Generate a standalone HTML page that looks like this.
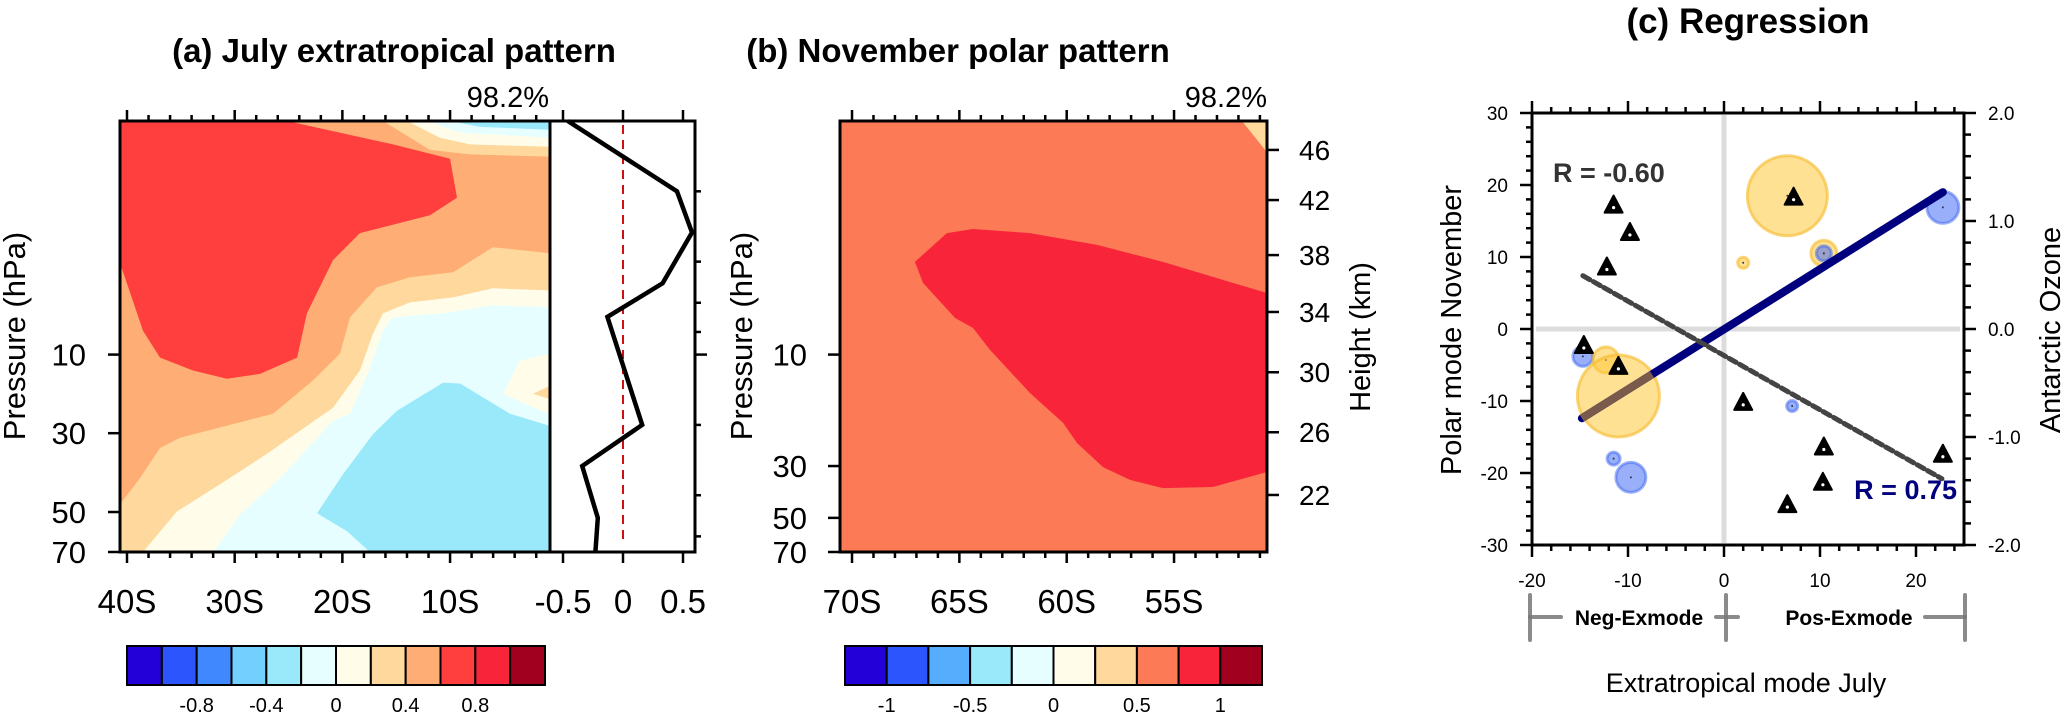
<!DOCTYPE html>
<html><head><meta charset="utf-8">
<style>
html,body{margin:0;padding:0;background:#fff;}
svg{display:block;font-family:"Liberation Sans",Arial,sans-serif;}
</style></head>
<body>
<svg id="fig" width="2067" height="716" viewBox="0 0 2067 716" xmlns="http://www.w3.org/2000/svg">
<text x="394" y="62" font-size="33" font-weight="bold" text-anchor="middle">(a) July extratropical pattern</text>
<text x="958" y="62" font-size="33" font-weight="bold" text-anchor="middle">(b) November polar pattern</text>
<text x="1748" y="33" font-size="35" font-weight="bold" text-anchor="middle">(c) Regression</text>
<text x="549" y="107" font-size="29" text-anchor="end">98.2%</text>
<text x="1267" y="107" font-size="29" text-anchor="end">98.2%</text>
<text transform="translate(25,336) rotate(-90)" font-size="31" text-anchor="middle">Pressure (hPa)</text>
<text transform="translate(752,336) rotate(-90)" font-size="31" text-anchor="middle">Pressure (hPa)</text>
<text transform="translate(1370,337) rotate(-90)" font-size="29" text-anchor="middle">Height (km)</text>
<text transform="translate(1461,330) rotate(-90)" font-size="29" text-anchor="middle">Polar mode November</text>
<text transform="translate(2060,330) rotate(-90)" font-size="29" text-anchor="middle">Antarctic Ozone</text>
<text x="1746" y="692" font-size="27" text-anchor="middle">Extratropical mode July</text>
</svg>
<script>
// ---------- Panel (a) data ----------
const aLatTicks = [40, 30, 20, 10];
const aLatLabels = ['40S', '30S', '20S', '10S'];
const aPTicks = [10, 21.7, 47.2, 70];
const pTicks = [10, 30, 50, 70];
const pLabels = ['10', '30', '50', '70'];
const sidePTicks = [2, 4, 6, 8, 10, 20, 40, 60];
const profileVal = [-0.46, 0.45, 0.575, 0.33, -0.13, 0.16, -0.34, -0.21, -0.23];
const profileP = [1.0, 2.0, 3.0, 4.95, 6.9, 20, 30, 50, 70];
const sideTicks = [-0.5, 0, 0.5];
const sideLabels = ['-0.5', '0', '0.5'];
const aContourRed = [[40.65,1],[25.14,1],[15.3,1.26],[10.01,1.45],[9.36,2.13],[11.87,2.53],[18.37,3.02],[20.87,3.94],[23.29,6.66],[24.2,10.3],[27.65,12.1],[30.72,12.7],[33.87,11.7],[36.94,10.3],[38.51,7.9],[40.65,4.06]];
const aContourTopLO = [[16.23,1],[0.72,1],[0.72,1.42],[8.15,1.39],[11.87,1.33]];
const aContourTopCream = [[14.0,1],[0.72,1],[0.72,1.29],[8.15,1.26],[10.94,1.18]];
const aContourTopLC = [[12.15,1],[0.72,1],[0.72,1.18],[9.08,1.12]];
const aContourTopCyan = [[10.01,1],[0.72,1],[0.72,1.09],[7.22,1.06]];
const aContourLO = [[0.72,3.68],[6.02,3.47],[9.73,4.44],[13.72,4.67],[16.79,5.15],[19.29,6.93],[20.22,9.9],[22.73,12.9],[26.44,17.9],[35.08,22.7],[36.94,25.1],[38.79,33.8],[40.65,43.7],[40.65,70],[0.72,70]];
const aContourCream = [[0.72,5.31],[6.02,5.2],[9.73,5.69],[13.72,5.98],[16.23,6.66],[17.16,8.12],[18.37,11.7],[20.87,16.9],[27.0,26.6],[31.36,35.9],[35.36,46.9],[38.51,70],[0.72,70]];
const aContourLC = [[0.72,6.28],[6.02,6.16],[10.66,6.66],[15.3,6.93],[16.23,7.88],[17.44,11.4],[19.29,17.9],[20.87,19.2],[25.8,33.8],[29.51,48.3],[32.01,70],[0.72,70]];
const aContourBump = [[0.72,9.9],[3.51,10.6],[5.09,14.7],[2.58,16.6],[0.72,17.9]];
const aContourBumpLO = [[0.72,13.6],[2.3,14.7],[0.72,15.5]];
const aContourCyan = [[17.44,70],[19.57,57],[22.36,47.8],[19.94,32.5],[17.16,21.9],[14.93,17.4],[10.66,13.2],[9.08,13.3],[4.44,17.9],[0.72,20.2],[0.72,70]];
const aColors = ['#2300d8','#2d55fe','#3f88fe','#72cffe','#99e9fb','#e6feff','#fffde9','#fed89c','#fead74','#fe3f3d','#f8253a','#a2001f'];
const aCbLabels = ['-0.8','-0.4','0','0.4','0.8'];

// ---------- Panel (b) data ----------
const bLatTicks = [70, 65, 60, 55];
const bLatLabels = ['70S', '65S', '60S', '55S'];
const heightTicks = [46, 42, 38, 34, 30, 26, 22];
const heightPressure = [1.33, 2.18, 3.75, 6.57, 11.9, 21.5, 39.9];
const bContourRed = [[67.07,4.01],[65.58,3.02],[64.37,2.9],[61.71,3.02],[58.59,3.39],[55.52,4.01],[52.4,4.89],[50.67,5.45],[50.67,31.8],[53.19,36.9],[55.52,37.3],[57.05,34.4],[58.31,30.3],[59.52,23.9],[60.17,19.6],[61.71,14.6],[63.57,9.56],[64.37,7.69],[65.2,6.97],[66.69,4.94]];
const bContourCorner = [[51.84,1],[50.67,1],[50.67,1.36]];
const bColors = ['#2300d8','#2d55fe','#56adfe','#99e9fb','#e6feff','#fffde9','#fed89c','#fc7a55','#f8253a','#a2001f'];
const bCbLabels = ['-1','-0.5','0','0.5','1'];

// ---------- Panel (c) data ----------
const cXTicks = [-20, -10, 0, 10, 20];
const cYTicks = [30, 20, 10, 0, -10, -20, -30];
const ozoneTicks = [2.0, 1.0, 0.0, -1.0, -2.0];
const triX = [-11.5, -9.8, -12.2, 7.25, -14.6, -11.0, 2.0, 10.4, 22.8, 10.3, 6.6];
const triY = [17.0, 13.2, 8.4, 18.1, -2.5, -5.4, -10.4, -16.6, -17.6, -21.5, -24.6];
const circX = [6.6, 22.8, 10.4, 10.4, 2.0, -14.7, -12.3, -11.0, 7.1, -11.5, -9.7];
const circY = [18.5, 16.9, 10.5, 10.5, 9.2, -3.8, -4.3, -9.3, -10.7, -18.0, -20.6];
const circSize = [40, 16, 13, 7.5, 5.5, 10, 13, 41, 5.5, 6.5, 15];
const circSign = ['pos','neg','pos','neg','pos','neg','pos','pos','neg','neg','neg'];
const fitPolarX = [-14.8, 22.8];
const fitPolarY = [-12.4, 19.0];
const fitBrownX = [-14.8, -7.5];
const fitBrownY = [-12.4, -6.3];
const fitOzoneX = [-14.7, 22.7];
const fitOzoneY = [7.4, -20.8];

const NS = 'http://www.w3.org/2000/svg';
const svg = document.getElementById('fig');
function mk(tag, attrs, parent) {
  const e = document.createElementNS(NS, tag);
  for (const k in attrs) e.setAttribute(k, attrs[k]);
  (parent || svg).appendChild(e);
  return e;
}
function txt(s, attrs) { const t = mk('text', attrs); t.textContent = s; return t; }

const pTop = 121, pBot = 552, lnMax = Math.log(70);
function yP(p) { return pTop + (pBot - pTop) * Math.log(p) / lnMax; }
const aL = 120, aR = 550, aLatL = 40.65, aLatR = 0.72;
function xA(lat) { return aL + (aLatL - lat) / (aLatL - aLatR) * (aR - aL); }
const bL = 840, bR = 1267, bLatL = 70.56, bLatR = 50.67;
function xB(lat) { return bL + (bLatL - lat) / (bLatL - bLatR) * (bR - bL); }
const sL = 550, sR = 695;
function xS(v) { return 623 + v * 120; }
const cL = 1532, cR = 1964, cT = 113, cB = 545;
function xC(v) { return cL + (v + 20) / 45 * (cR - cL); }
function yC(v) { return cB - (v + 30) / 60 * (cB - cT); }
function yOz(v) { return cB - (v + 2) / 4 * (cB - cT); }

function polyIn(g, pts, xf, color, name) {
  const d = pts.map(q => xf(q[0]).toFixed(1) + ',' + yP(q[1]).toFixed(1)).join(' ');
  const e = mk('polygon', { points: d, fill: color }, g);
  
  
}

// ---------- Panel a ----------
const ca = mk('clipPath', { id: 'clipA' }); mk('rect', { x: aL, y: pTop, width: aR - aL, height: pBot - pTop }, ca);
const ga = mk('g', { 'clip-path': 'url(#clipA)' });
let bg = mk('rect', { x: aL, y: pTop, width: aR - aL, height: pBot - pTop, fill: '#fead74' }, ga);


polyIn(ga, aContourRed, xA, '#fe3f3d', 'contour-a-red');
polyIn(ga, aContourTopLO, xA, '#fed89c', 'contour-a-top-lightorange');
polyIn(ga, aContourTopCream, xA, '#fffde9', 'contour-a-top-cream');
polyIn(ga, aContourTopLC, xA, '#e6feff', 'contour-a-top-lightcyan');
polyIn(ga, aContourTopCyan, xA, '#99e9fb', 'contour-a-top-cyan');
polyIn(ga, aContourLO, xA, '#fed89c', 'contour-a-lightorange');
polyIn(ga, aContourCream, xA, '#fffde9', 'contour-a-cream');
polyIn(ga, aContourLC, xA, '#e6feff', 'contour-a-lightcyan');
polyIn(ga, aContourBump, xA, '#fffde9', 'contour-a-cream-bump');
polyIn(ga, aContourBumpLO, xA, '#fed89c', 'contour-a-lightorange-bump');
polyIn(ga, aContourCyan, xA, '#99e9fb', 'contour-a-cyan');
let fr = mk('rect', { x: aL, y: pTop, width: aR - aL, height: pBot - pTop, fill: 'none', stroke: '#000', 'stroke-width': 3 });



for (let lat = 40; lat >= 2; lat -= 2) {
  const major = lat % 10 === 0, x = xA(lat), L = major ? 11 : 6;
  mk('line', { x1: x, y1: pBot, x2: x, y2: pBot + L, stroke: '#000', 'stroke-width': 2.5 });
  mk('line', { x1: x, y1: pTop, x2: x, y2: pTop - L, stroke: '#000', 'stroke-width': 2.5 });
}
aLatTicks.forEach((lat, i) => {
  const t = txt(aLatLabels[i], { x: xA(lat), y: 613, 'font-size': 33, 'text-anchor': 'middle' });
  
  
});
aPTicks.forEach((p, i) => {
  mk('line', { x1: aL - 12, y1: yP(p), x2: aL, y2: yP(p), stroke: '#000', 'stroke-width': 2.5 });
  const t = txt(pLabels[i], { x: 86, y: yP(p) + 11, 'font-size': 31, 'text-anchor': 'end' });
  
  
});

const sfr = mk('rect', { x: sL, y: pTop, width: sR - sL, height: pBot - pTop, fill: '#fff', stroke: '#000', 'stroke-width': 3 });


const zl = mk('line', { x1: xS(0), y1: pTop + 4, x2: xS(0), y2: pBot - 12, stroke: '#d01010', 'stroke-width': 2, 'stroke-dasharray': '9,6' });


const prof = mk('polyline', { points: profileVal.map((v, i) => xS(v).toFixed(1) + ',' + yP(profileP[i]).toFixed(1)).join(' '), fill: 'none', stroke: '#000', 'stroke-width': 4.5 });


sideTicks.forEach((v, i) => {
  mk('line', { x1: xS(v), y1: pBot, x2: xS(v), y2: pBot + 11, stroke: '#000', 'stroke-width': 2.5 });
  mk('line', { x1: xS(v), y1: pTop, x2: xS(v), y2: pTop - 11, stroke: '#000', 'stroke-width': 2.5 });
  const t = txt(sideLabels[i], { x: xS(v), y: 613, 'font-size': 33, 'text-anchor': 'middle' });
  
  
});
sidePTicks.forEach(p => {
  const L = p === 10 ? 12 : 6;
  mk('line', { x1: sR, y1: yP(p), x2: sR + L, y2: yP(p), stroke: '#000', 'stroke-width': 2.5 });
});

const cbaL = 127, cbaR = 545, cbT = 646, cbH = 39;
aColors.forEach((c, i) => {
  const w = (cbaR - cbaL) / aColors.length;
  const r = mk('rect', { x: cbaL + i * w, y: cbT, width: w, height: cbH, fill: c, stroke: '#000', 'stroke-width': 2 });
  
  
});
aCbLabels.forEach((s, i) => {
  const w = (cbaR - cbaL) / aColors.length;
  const t = txt(s, { x: cbaL + (2 + 2 * i) * w, y: 712, 'font-size': 20, 'text-anchor': 'middle' });
  
  
});

// ---------- Panel b ----------
const cbp = mk('clipPath', { id: 'clipB' }); mk('rect', { x: bL, y: pTop, width: bR - bL, height: pBot - pTop }, cbp);
const gb = mk('g', { 'clip-path': 'url(#clipB)' });
bg = mk('rect', { x: bL, y: pTop, width: bR - bL, height: pBot - pTop, fill: '#fc7a55' }, gb);


polyIn(gb, bContourRed, xB, '#f8253a', 'contour-b-red');
polyIn(gb, bContourCorner, xB, '#fed89c', 'contour-b-corner');
fr = mk('rect', { x: bL, y: pTop, width: bR - bL, height: pBot - pTop, fill: 'none', stroke: '#000', 'stroke-width': 3 });


for (let lat = 70; lat >= 51; lat -= 1) {
  const major = lat % 5 === 0, x = xB(lat), L = major ? 11 : 6;
  mk('line', { x1: x, y1: pBot, x2: x, y2: pBot + L, stroke: '#000', 'stroke-width': 2.5 });
  mk('line', { x1: x, y1: pTop, x2: x, y2: pTop - L, stroke: '#000', 'stroke-width': 2.5 });
}
bLatTicks.forEach((lat, i) => {
  const t = txt(bLatLabels[i], { x: xB(lat), y: 613, 'font-size': 33, 'text-anchor': 'middle' });
  
  
});
pTicks.forEach((p, i) => {
  mk('line', { x1: bL - 12, y1: yP(p), x2: bL, y2: yP(p), stroke: '#000', 'stroke-width': 2.5 });
  const t = txt(pLabels[i], { x: 807, y: yP(p) + 11, 'font-size': 31, 'text-anchor': 'end' });
  
  
});
heightTicks.forEach((h, i) => {
  const y = yP(heightPressure[i]);
  mk('line', { x1: bR, y1: y, x2: bR + 12, y2: y, stroke: '#000', 'stroke-width': 2.5 });
  const t = txt(String(h), { x: 1299, y: y + 10, 'font-size': 28 });
  
  
});
const cbbL = 845, cbbR = 1262;
bColors.forEach((c, i) => {
  const w = (cbbR - cbbL) / bColors.length;
  const r = mk('rect', { x: cbbL + i * w, y: cbT, width: w, height: cbH, fill: c, stroke: '#000', 'stroke-width': 2 });
  
  
});
bCbLabels.forEach((s, i) => {
  const w = (cbbR - cbbL) / bColors.length;
  const t = txt(s, { x: cbbL + (1 + 2 * i) * w, y: 712, 'font-size': 20, 'text-anchor': 'middle' });
  
  
});

// ---------- Panel c ----------
let g0 = mk('line', { x1: xC(0), y1: cT + 2, x2: xC(0), y2: cB - 2, stroke: '#dcdcdc', 'stroke-width': 5 });


g0 = mk('line', { x1: cL + 4, y1: yC(0), x2: cR - 4, y2: yC(0), stroke: '#dcdcdc', 'stroke-width': 5 });



circX.forEach((v, i) => {
  const pos = circSign[i] === 'pos';
  const c = mk('circle', { cx: xC(v), cy: yC(circY[i]), r: circSize[i],
    fill: pos ? 'rgba(255,200,60,0.55)' : 'rgba(70,110,245,0.55)',
    stroke: pos ? 'rgba(245,185,40,0.6)' : 'rgba(60,100,240,0.5)', 'stroke-width': 3 });
  
  
  mk('circle', { cx: xC(v), cy: yC(circY[i]), r: 1, fill: '#334' });
});

let ln = mk('line', { x1: xC(fitPolarX[0]), y1: yC(fitPolarY[0]), x2: xC(fitPolarX[1]), y2: yC(fitPolarY[1]), stroke: '#00007f', 'stroke-width': 8, 'stroke-linecap': 'round' });


ln = mk('line', { x1: xC(fitBrownX[0]), y1: yC(fitBrownY[0]), x2: xC(fitBrownX[1]), y2: yC(fitBrownY[1]), stroke: '#7a5a4a', 'stroke-width': 8 });


ln = mk('line', { x1: xC(fitOzoneX[0]), y1: yC(fitOzoneY[0]), x2: xC(fitOzoneX[1]), y2: yC(fitOzoneY[1]), stroke: '#444', 'stroke-width': 5, 'stroke-dasharray': '8,4', 'stroke-linecap': 'round' });



triX.forEach((v, i) => {
  const x = xC(v), y = yC(triY[i]);
  const t = mk('polygon', { points: `${x},${y - 11} ${x - 9},${y + 6} ${x + 9},${y + 6}`, fill: '#000', stroke: '#000', 'stroke-width': 2, 'stroke-linejoin': 'round' });
  
  
  mk('circle', { cx: x, cy: y + 1, r: 1.6, fill: '#fff' });
});

fr = mk('path', { d: `M${cL},${cT} H${cR} V${cB} H${cL} Z`, fill: 'none', stroke: '#000', 'stroke-width': 3 });


for (let v = -20; v <= 24; v += 2) {
  const x = xC(v), L = v % 10 === 0 ? 12 : 6;
  mk('line', { x1: x, y1: cB, x2: x, y2: cB + L, stroke: '#000', 'stroke-width': 2.5 });
  mk('line', { x1: x, y1: cT, x2: x, y2: cT - L, stroke: '#000', 'stroke-width': 2.5 });
}
for (let v = -30; v <= 30; v += 2) {
  const y = yC(v), L = v % 10 === 0 ? 12 : 6;
  mk('line', { x1: cL - L, y1: y, x2: cL, y2: y, stroke: '#000', 'stroke-width': 2.5 });
}
for (let k = -10; k <= 10; k++) {
  const v = k / 5, y = yOz(v), L = k % 5 === 0 ? 12 : 7;
  mk('line', { x1: cR, y1: y, x2: cR + L, y2: y, stroke: '#000', 'stroke-width': 2.5 });
}
cXTicks.forEach(v => {
  const t = txt(String(v), { x: xC(v), y: 587, 'font-size': 19, 'text-anchor': 'middle' });
  
  
});
cYTicks.forEach(v => {
  const t = txt(String(v), { x: 1508, y: yC(v) + 7, 'font-size': 19, 'text-anchor': 'end' });
  
  
});
ozoneTicks.forEach(v => {
  const t = txt(v.toFixed(1), { x: 1988, y: yOz(v) + 7, 'font-size': 19 });
  
  
});
let rt = txt('R = -0.60', { x: 1553, y: 182, 'font-size': 27, 'font-weight': 'bold', fill: '#333' });


rt = txt('R = 0.75', { x: 1957, y: 499, 'font-size': 27, 'font-weight': 'bold', fill: '#00007f', 'text-anchor': 'end' });



const br = mk('g', { stroke: '#777', 'stroke-width': 4, 'stroke-opacity': 0.85, 'stroke-linecap': 'round' });


[1530, 1726, 1965].forEach(x => mk('line', { x1: x, y1: 595, x2: x, y2: 640 }, br));
mk('line', { x1: 1530, y1: 617, x2: 1561, y2: 617 }, br);
mk('line', { x1: 1716, y1: 617, x2: 1738, y2: 617 }, br);
mk('line', { x1: 1925, y1: 617, x2: 1965, y2: 617 }, br);
let mt = txt('Neg-Exmode', { x: 1639, y: 625, 'font-size': 21, 'font-weight': 'bold', 'text-anchor': 'middle' });


mt = txt('Pos-Exmode', { x: 1849, y: 625, 'font-size': 21, 'font-weight': 'bold', 'text-anchor': 'middle' });


</script>
</body></html>
